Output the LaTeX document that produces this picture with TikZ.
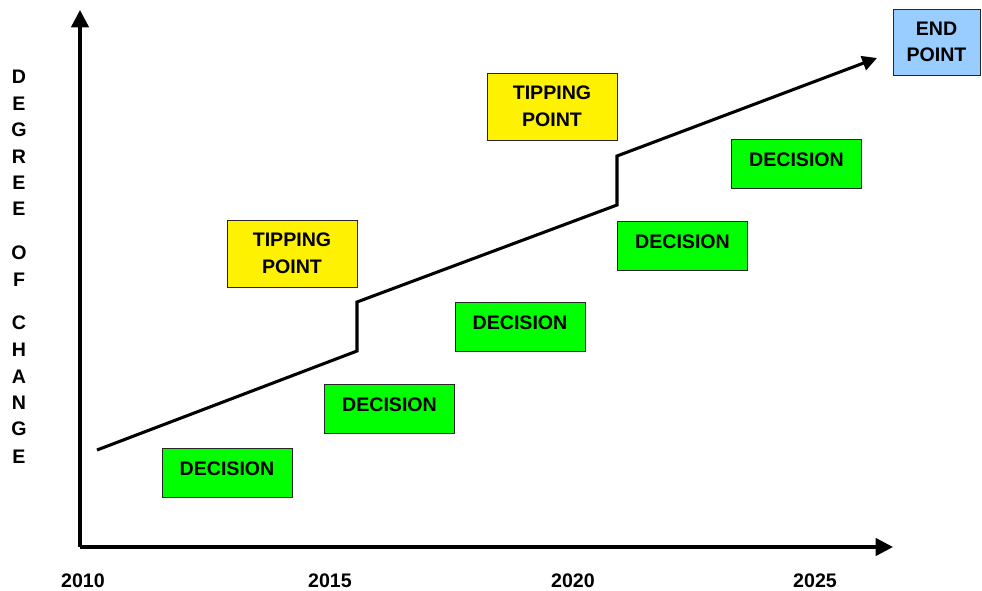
\documentclass[tikz,border=0pt]{standalone}
\usepackage{fontspec}
\setmainfont{Liberation Sans}
\usetikzlibrary{arrows.meta}

\begin{document}
\begin{tikzpicture}[x=0.75pt,y=-0.75pt,
    lbl/.style={font=\fontsize{14.7}{20}\selectfont\bfseries, inner sep=0pt},
    box/.style={lbl, draw=black!85, line width=0.75pt, minimum width=97.5pt, align=center},
    decision/.style={box, fill=green, minimum height=36.75pt, text depth=6pt},
    tipping/.style={box, fill=yellow, minimum height=50.25pt},
    endbox/.style={box, fill={rgb,255:red,153;green,204;blue,255}, minimum width=65.25pt, minimum height=49.5pt}]
        \useasboundingbox (0,0) rectangle (982,590);
        % axes
        \coordinate (O) at (80,547);
        \coordinate (Y) at (80,10);
        \coordinate (X) at (893,547);
        \draw[line width=2.5pt, -{Triangle[length=13pt,width=13pt]}] (O)--(Y);
        \draw[line width=2.5pt, -{Triangle[length=13pt,width=13pt]}] (O)--(X);
        \foreach \yr/\xx in {2010/83, 2015/330, 2020/573, 2025/815}
          \node[lbl] (yr\yr) at (\xx,581) {\yr};
        \foreach \ch/\yy [count=\i] in {D/77, E/104, G/130, R/157, E/183, E/209,
            O/253, F/280, C/323, H/350, A/377, N/403, G/429, E/457}
          \node[lbl] (ax\i) at (19,\yy) {\ch};
        % path of change
        \coordinate (A) at (97,450);
        \coordinate (B) at (357,351);
        \coordinate (C) at (357,302);
        \coordinate (D) at (617,205);
        \coordinate (E) at (617,156);
        \coordinate (F) at (877,58);
        \draw[line width=2.3pt, -{Triangle[length=11pt,width=11pt]}] (A)--(B)--(C)--(D)--(E)--(F);
        % boxes
        \node[decision] (d1) at (227,473) {DECISION};
        \node[decision] (d2) at (389.5,408.5) {DECISION};
        \node[decision] (d3) at (520,326.5) {DECISION};
        \node[decision] (d4) at (682.5,245.5) {DECISION};
        \node[decision] (d5) at (796.5,164) {DECISION};
        \node[tipping] (t1) at (292,253.5) {TIPPING\\POINT};
        \node[tipping] (t2) at (552,106.5) {TIPPING\\POINT};
        \node[endbox] (end) at (936.5,42) {END\\POINT};
\end{tikzpicture}
\end{document}
